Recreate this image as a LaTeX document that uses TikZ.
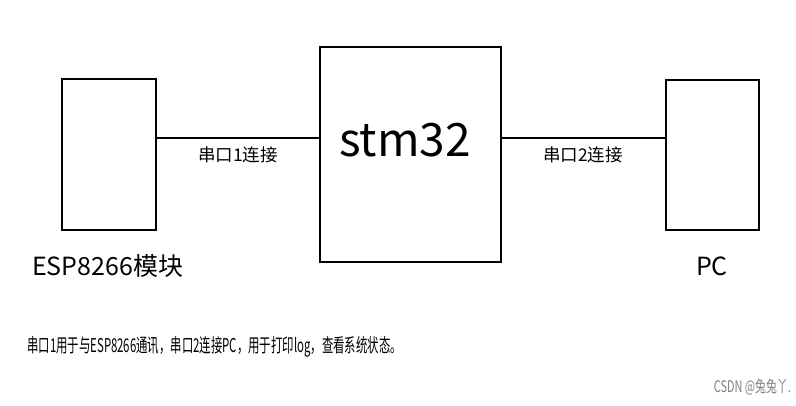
\documentclass[tikz,border=0pt]{standalone}
\usepackage{fontspec}
\usepackage{graphicx}
\setmainfont{Noto Sans CJK SC}
\newfontfamily\cjk{Noto Sans CJK SC}
\begin{document}
\begin{tikzpicture}[x=1pt,y=-1pt,
  box/.style={draw=black,line width=1.8pt,fill=white,inner sep=0pt},
  wire/.style={draw=black,line width=1.8pt},
  lbl/.style={font=\fontsize{17.5}{20}\selectfont,inner sep=0pt},
  big/.style={font=\fontsize{25}{30}\selectfont,inner sep=0pt}]
\useasboundingbox[fill=white] (0,0) rectangle (796,405);
\node[box,minimum width=94pt,minimum height=151pt] (esp) at (109,154.5) {};
\node[box,minimum width=181pt,minimum height=215pt] (stm) at (410.5,154.5) {};
\node[box,minimum width=93pt,minimum height=150pt] (pc) at (712.5,155) {};
\node[font=\fontsize{46}{52}\selectfont,inner sep=0pt] (stmt) at (405,140) {stm32};
\coordinate (a1) at (esp.east |- 0,138);
\coordinate (a2) at (stm.west |- 0,138);
\coordinate (b1) at (stm.east |- 0,138);
\coordinate (b2) at (pc.west |- 0,138);
\draw[wire] (a1) -- (a2);
\draw[wire] (b1) -- (b2);
\node[lbl] (l1) at (238,155) {串口1连接};
\node[lbl] (l2) at (583,155) {串口2连接};
\node[big,anchor=west] (espt) at (32,266) {ESP8266模块};
\node[big] (pct) at (712,266) {PC};
\node[anchor=west,inner sep=0pt] (note) at (27,347) {\scalebox{0.6}[1]{\fontsize{19}{22}\selectfont 串口1用于与ESP8266通讯，串口2连接PC，用于打印log，查看系统状态。}};
\node[anchor=east,inner sep=0pt,text=black!50] (wm) at (791,387) {\scalebox{0.68}[1]{\fontsize{16}{18}\selectfont CSDN @兔兔丫.}};
\end{tikzpicture}
\end{document}
